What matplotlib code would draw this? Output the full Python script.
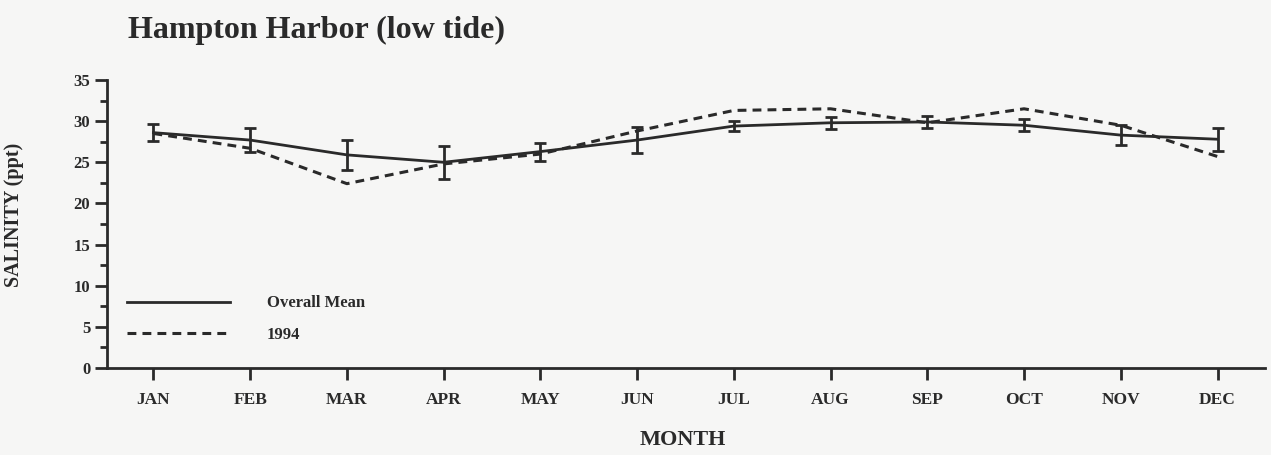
import matplotlib
matplotlib.use("Agg")
import matplotlib.pyplot as plt
from matplotlib.ticker import MultipleLocator
from matplotlib.lines import Line2D

months = ["JAN", "FEB", "MAR", "APR", "MAY", "JUN", "JUL", "AUG", "SEP", "OCT", "NOV", "DEC"]
overall_mean = [28.6, 27.7, 25.9, 25.0, 26.3, 27.7, 29.4, 29.8, 29.9, 29.5, 28.3, 27.8]
mean_err = [1.0, 1.5, 1.8, 2.0, 1.1, 1.6, 0.6, 0.7, 0.7, 0.7, 1.2, 1.4]
year_1994 = [28.5, 26.7, 22.4, 24.8, 26.0, 28.8, 31.3, 31.5, 29.8, 31.5, 29.5, 25.7]
yticks = [0, 5, 10, 15, 20, 25, 30, 35]

serif = ["Liberation Serif", "DejaVu Serif"]
ink = "#2a2a2a"
bg = "#f6f6f5"
dash = (2.9, 2.0)

fig = plt.figure(figsize=(12.71, 4.55), dpi=100, facecolor=bg)
ax = fig.add_axes([0.0842, 0.1912, 0.911, 0.633], facecolor=bg)

x = list(range(len(months)))
ax.errorbar(x, overall_mean, yerr=mean_err, color=ink, lw=2.0, capsize=4.5,
            capthick=2.0, elinewidth=2.0)
ax.plot(x, year_1994, color=ink, lw=2.2, dashes=dash)

ax.set_xlim(-0.48, 11.49)
ax.set_ylim(0, 35)
ax.set_xticks(x)
ax.set_xticklabels(months, fontfamily=serif, fontweight="bold", fontsize=12.5, color=ink)
ax.set_yticks(yticks)
ax.set_yticklabels([str(v) for v in yticks], fontfamily=serif, fontweight="bold", fontsize=12, color=ink)
ax.yaxis.set_minor_locator(MultipleLocator(2.5))

for s in ["top", "right"]:
    ax.spines[s].set_visible(False)
for s in ["left", "bottom"]:
    ax.spines[s].set_linewidth(2.0)
    ax.spines[s].set_color(ink)
ax.tick_params(axis="x", direction="out", length=8.5, width=2, color=ink, pad=8.5)
ax.tick_params(axis="y", which="major", direction="out", length=9, width=2, color=ink, pad=3)
ax.tick_params(axis="y", which="minor", direction="out", length=5, width=2, color=ink)

ax.set_ylabel("SALINITY (ppt)", fontfamily=serif, fontweight="bold", fontsize=14.5, color=ink)
ax.yaxis.set_label_coords(-0.0715, 0.53)
ax.set_xlabel("MONTH", fontfamily=serif, fontweight="bold", fontsize=16, color=ink)
ax.xaxis.set_label_coords(0.497, -0.215)

handles = [Line2D([], [], color=ink, lw=2.0),
           Line2D([], [], color=ink, lw=2.2, dashes=dash)]
labels = ["Overall Mean", "1994"]
leg = ax.legend(handles, labels, loc="lower left", bbox_to_anchor=(0.010, 0.057), frameon=False,
                handlelength=6.2, handletextpad=2.2, labelspacing=0.95,
                prop={"family": serif, "weight": "bold", "size": 12}, borderpad=0)
for t in leg.get_texts():
    t.set_color(ink)

fig.text(0.101, 0.932, "Hampton Harbor (low tide)", fontfamily=serif, fontweight="bold",
         fontsize=23, color=ink, ha="left", va="center")

fig.savefig("out.png", dpi=100, facecolor=bg)
